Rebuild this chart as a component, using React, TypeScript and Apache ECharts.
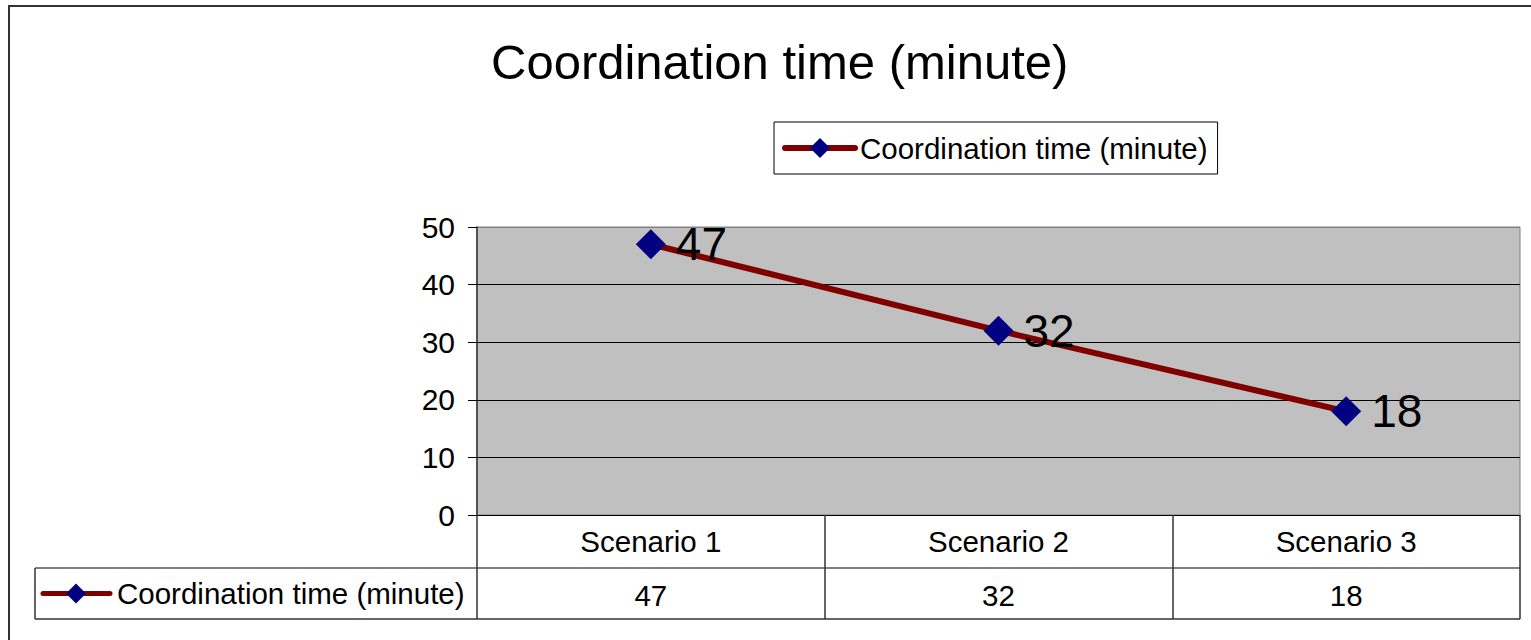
import React, { useEffect, useRef } from "react";
import * as echarts from "echarts";

const categories = ["Scenario 1", "Scenario 2", "Scenario 3"];
const seriesName = "Coordination time (minute)";
const values = [47, 32, 18];
const yTicks = { min: 0, max: 50, interval: 10 };

const FONT = "'Liberation Sans', Arial, sans-serif";
const W = 1531;
const H = 640;
const GRID_L = 477;
const GRID_R = 1520;
const GRID_T = 227;
const GRID_B = 515;
const ROW_H = 52;
const TABLE_L = 35;

export default function App() {
  const ref = useRef<HTMLDivElement>(null);
  useEffect(() => {
    document.body.style.margin = "0";
    document.body.style.overflow = "hidden";
    const chart = echarts.init(ref.current!, undefined, { renderer: "svg" });
    const row1 = GRID_B + ROW_H + 1;
    const row2 = row1 + ROW_H - 1;
    const midRow2 = (row1 + row2) / 2;
    chart.setOption({
      animation: false,
      backgroundColor: "#ffffff",
      title: {
        text: seriesName,
        left: 486,
        top: 32,
        textStyle: { fontFamily: FONT, fontSize: 49, fontWeight: "normal", color: "#000" },
      },
      legend: {
        left: 774,
        top: 122,
        itemWidth: 70,
        itemHeight: 25,
        padding: [11, 10, 11, 8],
        borderColor: "#000",
        borderWidth: 1,
        textStyle: { fontFamily: FONT, fontSize: 29.5, color: "#000" },
        lineStyle: { width: 6, cap: "round", color: "#800000" },
        data: [seriesName],
      },
      grid: {
        left: GRID_L,
        top: GRID_T,
        width: GRID_R - GRID_L,
        height: GRID_B - GRID_T,
        show: true,
        backgroundColor: "#c0c0c0",
        borderColor: "#808080",
        borderWidth: 1,
      },
      xAxis: [
        {
          type: "category",
          data: categories,
          boundaryGap: true,
          axisLine: { show: true, lineStyle: { color: "#000", width: 1 } },
          axisTick: { show: true, length: ROW_H * 2, lineStyle: { color: "#333", width: 1.5 } },
          axisLabel: { fontFamily: FONT, fontSize: 29.5, color: "#000", margin: 11 },
          splitLine: { show: false },
        },
        {
          type: "category",
          data: values.map(String),
          position: "bottom",
          offset: ROW_H + 1,
          boundaryGap: true,
          axisLine: { show: false },
          axisTick: { show: false },
          axisLabel: { fontFamily: FONT, fontSize: 29.5, color: "#000", margin: 12 },
          splitLine: { show: false },
        },
      ],
      yAxis: {
        type: "value",
        min: yTicks.min,
        max: yTicks.max,
        interval: yTicks.interval,
        axisLine: { show: true, lineStyle: { color: "#333", width: 1.5 } },
        axisTick: { show: true, length: 9, lineStyle: { color: "#000" } },
        axisLabel: { fontFamily: FONT, fontSize: 30, color: "#000", margin: 22 },
        splitLine: {
          show: true,
          lineStyle: { color: ["#000", "#000", "#000", "#000", "#000", "#808080"], width: 1 },
        },
      },
      series: [
        {
          name: seriesName,
          type: "line",
          xAxisIndex: 0,
          data: values,
          symbol: "diamond",
          symbolSize: 30,
          itemStyle: { color: "#000080" },
          lineStyle: { color: "#800000", width: 6 },
          label: {
            show: true,
            position: "right",
            distance: 10,
            fontFamily: FONT,
            fontSize: 46,
            color: "#000",
          },
        },
      ],
      graphic: [
        {
          type: "rect",
          shape: { x: 9, y: 6, width: W + 20, height: H + 20 },
          style: { fill: "none", stroke: "#333", lineWidth: 2 },
          silent: true,
        },
        {
          type: "line",
          shape: { x1: TABLE_L, y1: row1, x2: GRID_R, y2: row1 },
          style: { stroke: "#000", lineWidth: 1 },
        },
        {
          type: "line",
          shape: { x1: TABLE_L, y1: row2, x2: GRID_R, y2: row2 },
          style: { stroke: "#333", lineWidth: 1.5 },
        },
        {
          type: "line",
          shape: { x1: TABLE_L, y1: row1, x2: TABLE_L, y2: row2 },
          style: { stroke: "#333", lineWidth: 1.5 },
        },
        {
          type: "line",
          shape: { x1: 43, y1: midRow2, x2: 110, y2: midRow2 },
          style: { stroke: "#800000", lineWidth: 5, lineCap: "round" },
        },
        {
          type: "polygon",
          shape: {
            points: [
              [76, midRow2 - 10],
              [86, midRow2],
              [76, midRow2 + 10],
              [66, midRow2],
            ],
          },
          style: { fill: "#000080" },
        },
        {
          type: "text",
          x: 117,
          y: midRow2,
          style: {
            text: seriesName,
            fontFamily: FONT,
            fontSize: 29.5,
            fill: "#000",
            verticalAlign: "middle",
            align: "left",
          },
        },
      ],
    });
    return () => chart.dispose();
  }, []);
  return <div ref={ref} style={{ width: W, height: H }} />;
}
